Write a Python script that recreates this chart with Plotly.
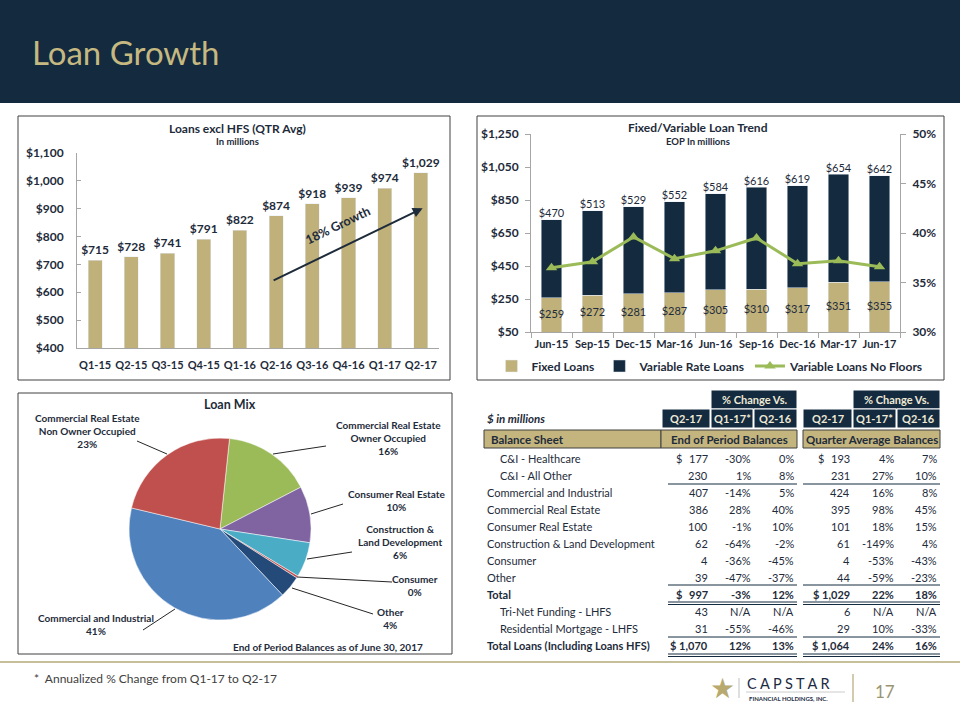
import plotly.graph_objects as go

# ---------------- data ----------------
quarters = ["Q1-15", "Q2-15", "Q3-15", "Q4-15", "Q1-16", "Q2-16", "Q3-16", "Q4-16", "Q1-17", "Q2-17"]
avg_loans = [715, 728, 741, 791, 822, 874, 918, 939, 974, 1029]

months = ["Jun-15", "Sep-15", "Dec-15", "Mar-16", "Jun-16", "Sep-16", "Dec-16", "Mar-17", "Jun-17"]
fixed_loans = [259, 272, 281, 287, 305, 310, 317, 351, 355]
variable_loans = [470, 513, 529, 552, 584, 616, 619, 654, 642]
no_floors = [0.365, 0.371, 0.396, 0.374, 0.382, 0.395, 0.369, 0.372, 0.366]

mix_labels = ["Commercial Real Estate Owner Occupied", "Consumer Real Estate", "Construction & Land Development",
              "Consumer", "Other", "Commercial and Industrial", "Commercial Real Estate Non Owner Occupied"]
mix_values = [157, 100, 62, 4, 39, 407, 229]
mix_colors = ["#9bbb59", "#8064a2", "#4bacc6", "#c0504d", "#234a78", "#4f81bd", "#c0504d"]

row_labels = ["C&I - Healthcare", "C&I - All Other", "Commercial and Industrial", "Commercial Real Estate",
              "Consumer Real Estate", "Construction & Land Development", "Consumer", "Other", "Total",
              "Tri-Net Funding - LHFS", "Residential Mortgage - LHFS", "Total Loans (Including Loans HFS)"]
row_indent = [1, 1, 0, 0, 0, 0, 0, 0, 0, 1, 1, 0]
row_bold = [0, 0, 0, 0, 0, 0, 0, 0, 1, 0, 0, 1]
row_dollar = [1, 0, 0, 0, 0, 0, 0, 0, 1, 0, 0, 1]
eop_q217 = ["177", "230", "407", "386", "100", "62", "4", "39", "997", "43", "31", "1,070"]
eop_q117 = ["-30%", "1%", "-14%", "28%", "-1%", "-64%", "-36%", "-47%", "-3%", "N/A", "-55%", "12%"]
eop_q216 = ["0%", "8%", "5%", "40%", "10%", "-2%", "-45%", "-37%", "12%", "N/A", "-46%", "13%"]
avg_q217 = ["193", "231", "424", "395", "101", "61", "4", "44", "1,029", "6", "29", "1,064"]
avg_q117 = ["4%", "27%", "16%", "98%", "18%", "-149%", "-53%", "-59%", "22%", "N/A", "10%", "24%"]
avg_q216 = ["7%", "10%", "8%", "45%", "15%", "4%", "-43%", "-23%", "18%", "N/A", "-33%", "16%"]
col_heads = ["Q2-17", "Q1-17*", "Q2-16"]

# ---------------- style ----------------
W, H = 960, 720
FONT = "Lato, 'Open Sans', sans-serif"
NAVY = "#132a3f"
GOLD = "#c0b17b"
GREEN = "#9bbb59"
DARK = "#1e2b3a"
AXIS = "#a6a6a6"


def X(px):
    return px / W


def Y(py):
    return 1 - py / H


fig = go.Figure()

# ---- Panel 1: Loans excl HFS ----
fig.add_trace(go.Bar(
    x=quarters, y=avg_loans, width=0.39, marker_color=GOLD,
    text=[f"${v:,}" for v in avg_loans], textposition="outside", cliponaxis=False, constraintext="none",
    textfont=dict(size=12, color=DARK, weight="bold", family=FONT),
    xaxis="x", yaxis="y", showlegend=False, hoverinfo="x+y"))

# ---- Panel 2: Fixed / Variable ----
fig.add_trace(go.Bar(x=months, y=fixed_loans, name="Fixed Loans", marker_color=GOLD, width=0.51,
                     xaxis="x2", yaxis="y2"))
fig.add_trace(go.Bar(x=months, y=variable_loans, name="Variable Rate Loans", marker_color=NAVY, width=0.51,
                     xaxis="x2", yaxis="y2"))
fig.add_trace(go.Scatter(x=months, y=[(50 + f) / 2 for f in fixed_loans], mode="text",
                         text=[f"${f}" for f in fixed_loans], textfont=dict(size=11, color=DARK),
                         xaxis="x2", yaxis="y2", showlegend=False, hoverinfo="skip", cliponaxis=False))
fig.add_trace(go.Scatter(x=months, y=[f + v for f, v in zip(fixed_loans, variable_loans)], mode="text",
                         text=[f"${v}" for v in variable_loans], textposition="top center",
                         textfont=dict(size=11, color=DARK),
                         xaxis="x2", yaxis="y2", showlegend=False, hoverinfo="skip", cliponaxis=False))
fig.add_trace(go.Scatter(x=months, y=no_floors, name="Variable Loans No Floors", mode="lines+markers",
                         line=dict(color=GREEN, width=3),
                         marker=dict(symbol="triangle-up", size=10, color=GREEN),
                         xaxis="x2", yaxis="y3", cliponaxis=False))

# ---- Pie ----
fig.add_trace(go.Pie(labels=mix_labels, values=mix_values, sort=False, direction="clockwise", rotation=6,
                     marker=dict(colors=mix_colors, line=dict(color="white", width=0.5)),
                     textinfo="none", showlegend=False,
                     domain=dict(x=[X(129), X(311)], y=[Y(620), Y(438)])))

shapes = []
ann = []


def text_at(text, x, y, size, color=DARK, bold=False, xanchor="center", **kw):
    font = dict(size=size, color=color, family=kw.pop("family", FONT), weight="bold" if bold else "normal")
    if "style" in kw:
        font["style"] = kw.pop("style")
    ann.append(dict(text=text, x=X(x), y=Y(y), xref="paper", yref="paper", xanchor=xanchor,
                    yanchor="middle", showarrow=False, font=font, **kw))


def line_at(x0, y0, x1, y1, color, width=1):
    shapes.append(dict(type="line", xref="paper", yref="paper", x0=X(x0), y0=Y(y0), x1=X(x1), y1=Y(y1),
                       line=dict(color=color, width=width)))


def rect_at(x0, y0, x1, y1, fill, lcolor, lwidth=1, layer="above"):
    shapes.append(dict(type="rect", xref="paper", yref="paper", x0=X(x0), x1=X(x1), y0=Y(y1), y1=Y(y0),
                       fillcolor=fill, line=dict(color=lcolor, width=lwidth), layer=layer))


# header band
rect_at(0, 0, 960, 103, NAVY, NAVY, 0, layer="below")
text_at("Loan Growth", 30, 52, 33, color="#c5b880", xanchor="left")

# panel borders
for (x0, y0, x1, y1) in [(18, 116, 450, 380), (477, 116, 944, 380), (18, 393, 452, 654)]:
    rect_at(x0, y0, x1, y1, "rgba(0,0,0,0)", "#404040", 1)

# panel titles
text_at("Loans excl HFS (QTR Avg)", 237, 128, 12, bold=True)
text_at("In millions", 237, 142, 9.5, bold=True)
text_at("Fixed/Variable Loan Trend", 698, 127, 12, bold=True)
text_at("EOP In millions", 698, 142, 9.5, bold=True)
text_at("Loan Mix", 230, 404, 12.5, bold=True)

# growth arrow + label (data coordinates of panel 1)
ann.append(dict(x=9.05, y=902, ax=4.89, ay=640, xref="x", yref="y", axref="x", ayref="y", text="",
                showarrow=True, arrowhead=2, arrowsize=1, arrowwidth=2, arrowcolor=DARK))
ann.append(dict(x=6.7, y=838, xref="x", yref="y", text="18% Growth", showarrow=False, textangle=-26,
                font=dict(size=12.5, color=DARK, family=FONT, weight="bold")))

# pie labels with leader lines
pie_ann = [
    ("Commercial Real Estate<br>Non Owner Occupied<br>23%", 87, 431, (137, 441, 167, 454)),
    ("Commercial Real Estate<br>Owner Occupied<br>16%", 388, 438, (326, 446, 273, 454)),
    ("Consumer Real Estate<br>10%", 397, 500, (343, 504, 311, 514)),
    ("Construction &amp;<br>Land Development<br>6%", 400, 542, (352, 552, 307, 559)),
    ("Consumer<br>0%", 415, 585, (392, 582, 297, 577)),
    ("Other<br>4%", 390, 618, (373, 614, 292, 588)),
    ("Commercial and Industrial<br>41%", 96, 624, (143, 630, 175, 609)),
]
for text, x, y, (lx0, ly0, lx1, ly1) in pie_ann:
    text_at(text, x, y, 10, bold=True)
    line_at(lx0, ly0, lx1, ly1, "#262626", 1)
text_at("End of Period Balances as of June 30, 2017", 328, 647, 10, bold=True)

# ---------------- table ----------------
CREAM = "#efe9d6"
TS = 11
for x0, x1 in [(711, 797), (853, 940)]:
    rect_at(x0, 390, x1, 409, NAVY, "white", 1)
    text_at("% Change Vs.", (x0 + x1) / 2, 399.5, TS, color=CREAM, bold=True)
col_boxes = [(662, 710), (711, 753), (754, 797), (803, 852), (853, 896), (897, 940)]
for i, (x0, x1) in enumerate(col_boxes):
    rect_at(x0, 409, x1, 428, NAVY, "white", 1)
    text_at(col_heads[i % 3], (x0 + x1) / 2, 418.5, TS, color=CREAM, bold=True)
text_at("$ in millions", 485, 418, 11.5, bold=True, xanchor="left", style="italic")
gold_cells = [(484, 661, "Balance Sheet", "left"), (661, 797, "End of Period Balances", "center"),
              (803, 940, "Quarter Average Balances", "center")]
for x0, x1, text, align in gold_cells:
    rect_at(x0, 430, x1, 448, "#c4b47e", "#404040", 1)
    text_at(text, x0 + 5 if align == "left" else (x0 + x1) / 2, 439, 11.5, bold=True, xanchor=align)

col_right = [710, 753, 796, 852, 896, 939]
cols = [eop_q217, eop_q117, eop_q216, avg_q217, avg_q117, avg_q216]
row_y0, row_step = 458, 17
for r, label in enumerate(row_labels):
    yy = row_y0 + r * row_step
    b = bool(row_bold[r])
    text_at(label, 498 if row_indent[r] else 485, yy, TS, bold=b, xanchor="left")
    for c, col in enumerate(cols):
        val = col[r]
        if row_dollar[r] and c in (0, 3):
            if len(val) > 3:
                val = "$ " + val
            else:
                text_at("$", col_right[c] - 36, yy, TS, bold=b, xanchor="left")
        text_at(val, col_right[c], yy, TS, bold=b, xanchor="right")

for yline, wline in [(484, 1), (585, 1), (602, 1), (604.5, 1), (637, 1), (654, 1), (656.5, 1)]:
    for x0, x1 in [(668, 797), (803, 940)]:
        line_at(x0, yline, x1, yline, NAVY, wline)

# footer
line_at(0, 662, 960, 662, "#b5a878", 1.5)
text_at("*  Annualized % Change from Q1-17 to Q2-17", 32, 678, 12, color="#404040", xanchor="left")
text_at("★", 722, 688, 28, color="#b8a96f", family="DejaVu Sans")
line_at(739, 678, 739, 698, "#bfbfbf", 1)
text_at("C A P S T A R", 745, 683, 14.5, color="#1c2b44", xanchor="left")
line_at(746, 692, 845, 692, "#bfbfbf", 0.8)
text_at("FINANCIAL HOLDINGS, INC.", 747, 698, 6, color="#1c2b44", bold=True, xanchor="left")
line_at(853, 674, 853, 702, "#b5a878", 1.2)
text_at("17", 885, 691, 17, color="#9a9470")

tickfont = dict(size=12, color=DARK, family=FONT, weight="bold")
xtickfont = dict(size=11, color=DARK, family=FONT, weight="bold")

fig.update_layout(
    width=W, height=H, margin=dict(l=0, r=0, t=0, b=0, autoexpand=False),
    paper_bgcolor="white", plot_bgcolor="rgba(0,0,0,0)",
    font=dict(family=FONT, color=DARK),
    barmode="stack",
    shapes=shapes, annotations=ann,
    legend=dict(orientation="h", x=X(710), y=Y(366), xanchor="center", yanchor="middle",
                font=dict(size=12, color=DARK, family=FONT, weight="bold"), traceorder="normal",
                itemwidth=30, bgcolor="rgba(0,0,0,0)"),
    xaxis=dict(domain=[X(77), X(439)], range=[-0.5, 9.5], type="category", showline=True, linecolor=AXIS,
               ticks="", tickfont=xtickfont, anchor="y", showgrid=False, tickangle=0, automargin=False,
               ticklabelstandoff=7),
    yaxis=dict(domain=[Y(348), Y(153)], range=[400, 1100], dtick=100, tickprefix="$", tickformat=",.0f",
               showline=True, linecolor=AXIS, ticks="inside", ticklen=4, tickcolor=AXIS, showgrid=False,
               zeroline=False, tickfont=tickfont, anchor="x", ticklabelstandoff=10, automargin=False),
    xaxis2=dict(domain=[X(531), X(900)], range=[-0.5, 8.5], type="category", showline=True, linecolor=AXIS,
                ticks="outside", tickson="boundaries", ticklen=5, tickcolor=AXIS, tickfont=xtickfont,
                anchor="y2", showgrid=False, tickangle=0, automargin=False, ticklabelstandoff=2),
    yaxis2=dict(domain=[Y(332), Y(134)], range=[50, 1250], dtick=200, tick0=50, tickprefix="$",
                tickformat=",.0f", showline=True, linecolor=AXIS, ticks="outside", ticklen=5, tickcolor=AXIS,
                showgrid=False, zeroline=False, tickfont=tickfont, anchor="x2", ticklabelstandoff=4,
                automargin=False),
    yaxis3=dict(domain=[Y(332), Y(134)], range=[0.30, 0.50], dtick=0.05, tickformat=".0%", overlaying="y2",
                side="right", anchor="x2", showline=True, linecolor=AXIS, ticks="outside", ticklen=5,
                tickcolor=AXIS, showgrid=False, zeroline=False, tickfont=tickfont, ticklabelstandoff=4,
                automargin=False),
)

# the page's default 8px body margin would shift the 960x720 figure; remove it
fig.write_html("out.html", config={"displayModeBar": False},
               post_script="document.body.style.margin='0';")
